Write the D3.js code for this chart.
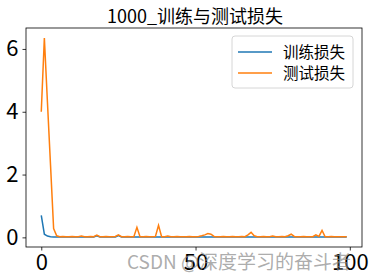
<!DOCTYPE html>
<html>
<head>
<meta charset="utf-8">
<script src="https://cdn.jsdelivr.net/npm/d3@7"></script>
<style>
  body { margin: 0; background: #fff; }
  svg { display: block; }
</style>
</head>
<body>
<svg id="chart" width="374" height="279"></svg>
<script>
// data
const epochs = d3.range(100);
const trainLoss = [
  0.70, 0.10, 0.04, 0.02, 0.01, 0.01, 0.01, 0.01, 0.01, 0.01,
  0.01, 0.01, 0.01, 0.01, 0.01, 0.01, 0.01, 0.01, 0.05, 0.01,
  0.01, 0.01, 0.01, 0.01, 0.01, 0.06, 0.01, 0.01, 0.01, 0.01,
  0.01, 0.01, 0.01, 0.01, 0.01, 0.01, 0.01, 0.01, 0.01, 0.01,
  0.01, 0.01, 0.01, 0.01, 0.01, 0.01, 0.01, 0.01, 0.01, 0.01,
  0.01, 0.01, 0.01, 0.01, 0.01, 0.01, 0.01, 0.01, 0.01, 0.01,
  0.01, 0.01, 0.01, 0.01, 0.01, 0.01, 0.01, 0.01, 0.01, 0.01,
  0.01, 0.01, 0.01, 0.01, 0.01, 0.01, 0.01, 0.01, 0.01, 0.01,
  0.01, 0.01, 0.01, 0.01, 0.01, 0.01, 0.01, 0.01, 0.01, 0.01,
  0.01, 0.01, 0.01, 0.01, 0.01, 0.01, 0.01, 0.01, 0.01, 0.01
];
const testLoss = [
  4.00, 6.35, 4.30, 2.30, 0.28, 0.05, 0.02, 0.03, 0.02, 0.02,
  0.03, 0.02, 0.02, 0.04, 0.02, 0.02, 0.03, 0.02, 0.07, 0.02,
  0.02, 0.03, 0.02, 0.02, 0.03, 0.08, 0.02, 0.02, 0.03, 0.02,
  0.02, 0.32, 0.02, 0.02, 0.03, 0.02, 0.02, 0.03, 0.38, 0.02,
  0.02, 0.04, 0.02, 0.02, 0.03, 0.02, 0.02, 0.02, 0.03, 0.02,
  0.02, 0.03, 0.05, 0.08, 0.12, 0.10, 0.03, 0.02, 0.02, 0.03,
  0.02, 0.02, 0.03, 0.02, 0.02, 0.03, 0.02, 0.08, 0.16, 0.05,
  0.02, 0.02, 0.03, 0.02, 0.02, 0.04, 0.02, 0.02, 0.03, 0.02,
  0.05, 0.10, 0.03, 0.02, 0.02, 0.03, 0.02, 0.02, 0.02, 0.08,
  0.03, 0.22, 0.02, 0.02, 0.03, 0.02, 0.02, 0.02, 0.02, 0.02
];
const seriesNames = ["训练损失", "测试损失"];
const seriesColors = ["#1f77b4", "#ff7f0e"];
const xTicks = [0, 50, 100];
const yTicks = [0, 2, 4, 6];
const title = "1000_训练与测试损失";
const watermark = "CSDN @深度学习的奋斗者";

const font = "'Noto Sans CJK SC', 'Noto Sans', sans-serif";
const svg = d3.select("#chart");
const margin = { top: 28, right: 12, bottom: 32, left: 26 };
const width = 374 - margin.left - margin.right;
const height = 279 - margin.top - margin.bottom;

// matplotlib style 5% padding around the data
const xPad = (d3.max(epochs) - d3.min(epochs)) * 0.05;
const x = d3.scaleLinear()
    .domain([d3.min(epochs) - xPad, d3.max(epochs) + xPad])
    .range([0, width]);
const yMin = d3.min(trainLoss.concat(testLoss));
const yMax = d3.max(trainLoss.concat(testLoss));
const yPad = (yMax - yMin) * 0.05;
const y = d3.scaleLinear()
    .domain([yMin - yPad, yMax + yPad])
    .range([height, 0]);

const g = svg.append("g").attr("transform", `translate(${margin.left},${margin.top})`);

const line = d3.line().x((d, i) => x(epochs[i])).y(d => y(d));
[trainLoss, testLoss].forEach((s, i) => {
    g.append("path")
        .datum(s)
        .attr("fill", "none")
        .attr("stroke", seriesColors[i])
        .attr("stroke-width", 1.5)
        .attr("d", line);
});

// axes
const xAxis = g.append("g")
    .attr("transform", `translate(0,${height})`)
    .call(d3.axisBottom(x).tickValues(xTicks).tickFormat(d3.format("d")).tickSize(3.5).tickPadding(4));
const yAxis = g.append("g")
    .call(d3.axisLeft(y).tickValues(yTicks).tickFormat(d3.format("d")).tickSize(3.5).tickPadding(4));
[xAxis, yAxis].forEach(a => {
    a.select(".domain").remove();
    a.selectAll("line").attr("stroke", "#000").attr("stroke-width", 0.8);
    a.selectAll("text").attr("font-family", font).attr("font-size", 22).attr("fill", "#000");
});

// frame
g.append("rect")
    .attr("width", width).attr("height", height)
    .attr("fill", "none").attr("stroke", "#000").attr("stroke-width", 0.8);

// title
svg.append("text")
    .attr("x", margin.left + width / 2 + 1).attr("y", 23)
    .attr("text-anchor", "middle")
    .attr("font-family", font).attr("font-size", 18)
    .text(title);

// legend
const legend = g.append("g").attr("transform", `translate(${width - 130},${8})`);
legend.append("rect")
    .attr("width", 121).attr("height", 52).attr("rx", 3)
    .attr("fill", "#fff").attr("fill-opacity", 0.8)
    .attr("stroke", "#ccc").attr("stroke-width", 0.8);
seriesNames.forEach((name, i) => {
    const ly = 16 + i * 21;
    legend.append("line")
        .attr("x1", 6).attr("x2", 40).attr("y1", ly).attr("y2", ly)
        .attr("stroke", seriesColors[i]).attr("stroke-width", 1.5);
    legend.append("text")
        .attr("x", 51).attr("y", ly + 5.5)
        .attr("font-family", font).attr("font-size", 15.5)
        .text(name);
});

// watermark
svg.append("text")
    .attr("x", 127).attr("y", 269)
    .attr("font-family", font).attr("font-size", 19)
    .attr("fill", "#888").attr("fill-opacity", 0.7)
    .text(watermark);
</script>
</body>
</html>
